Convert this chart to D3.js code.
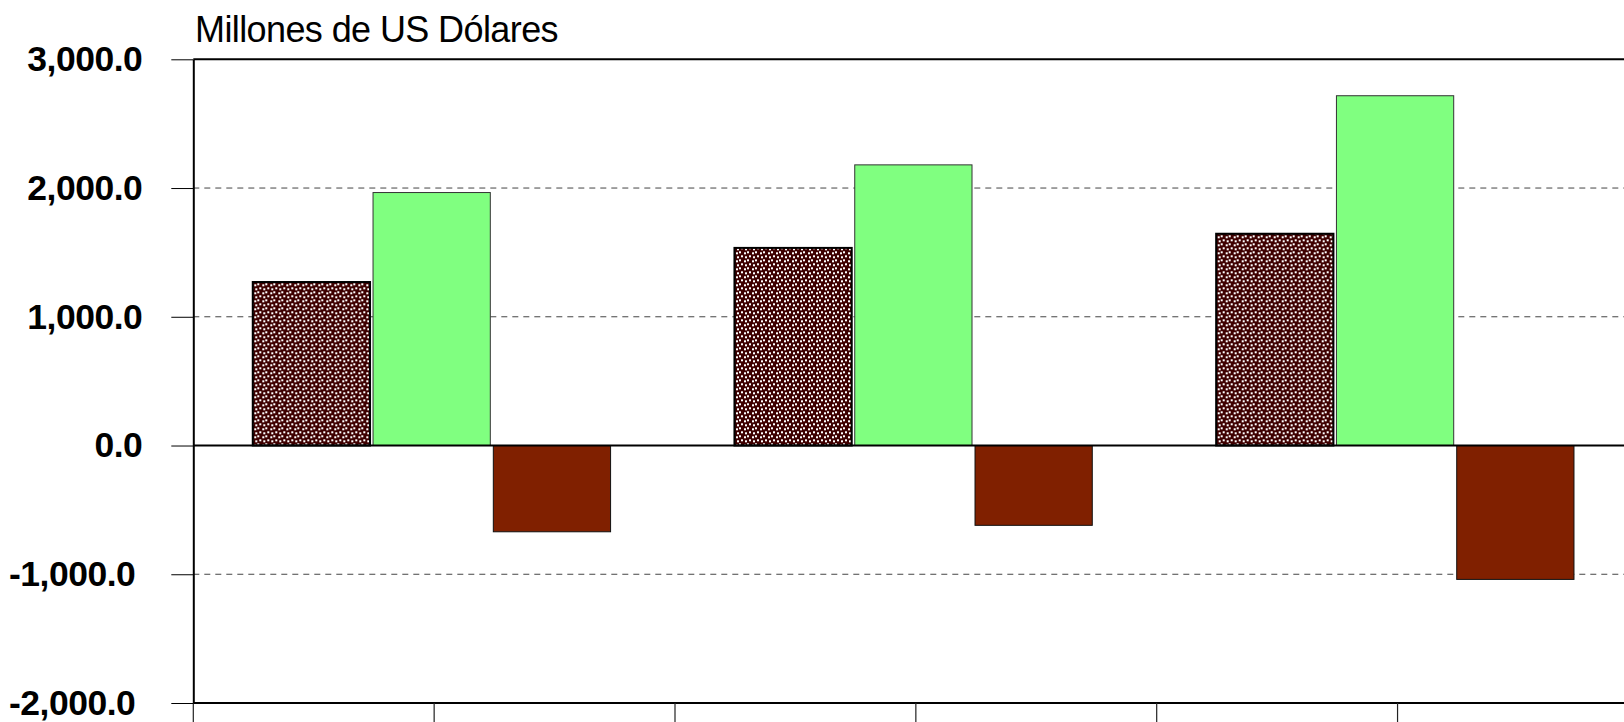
<!DOCTYPE html>
<html>
<head>
<meta charset="utf-8">
<script src="https://d3js.org/d3.v7.min.js"></script>
<style>
body { margin: 0; background: #fff; overflow: hidden; }
svg { display: block; }
.yAxis text { font: bold 35.5px "Liberation Sans", Arial, sans-serif; fill: #000; }
.title { font: 36px "Liberation Sans", Arial, sans-serif; fill: #000; }
</style>
</head>
<body>
<svg id="svg_chart"></svg>
<script>
// chart values
var categories = ["Periodo 1", "Periodo 2", "Periodo 3"];
var seriesNames = ["Exportaciones", "Importaciones", "Saldo"];
var exportaciones = [1270, 1535, 1645];
var importaciones = [1965, 2180, 2717];
var saldo = [-670, -620, -1040];
var yTicks = [-2000, -1000, 0, 1000, 2000, 3000];
var gridTicks = [-1000, 1000, 2000];
var titleText = "Millones de US Dólares";

var w = 1624;
var h = 722;
var margin = {top: 59.3, left: 193.3};
var cat_w = 481.7;
var plot_w = categories.length * cat_w;
var plot_h = 643.7;

var fills = {"Exportaciones": "url(#confetti)", "Importaciones": "#80ff80", "Saldo": "#802000"};
var strokes = {"Exportaciones": "#000", "Importaciones": "#333", "Saldo": "#111"};
var strokeW = {"Exportaciones": 2, "Importaciones": 1, "Saldo": 1};

var rows = categories.map(function(c, i) {
  return {cat: c, values: [
    {name: seriesNames[0], value: exportaciones[i]},
    {name: seriesNames[1], value: importaciones[i]},
    {name: seriesNames[2], value: saldo[i]}
  ]};
});

var fmt = d3.formatLocale({decimal: ".", thousands: ",", grouping: [3], currency: ["$", ""], minus: "-"}).format(",.1f");

var svg = d3.select("svg#svg_chart")
    .attr("width", w)
    .attr("height", h);

// confetti pattern for the first series
var pat = svg.append("defs").append("pattern")
    .attr("id", "confetti")
    .attr("patternUnits", "userSpaceOnUse")
    .attr("width", 8)
    .attr("height", 8);
pat.append("rect").attr("width", 8).attr("height", 8).attr("fill", "#3e0000");
[[0,0,2,2],[5,1,2,2],[2,4,2,2],[6,5,2,2]].forEach(function(r) {
  pat.append("rect").attr("x", r[0]).attr("y", r[1]).attr("width", r[2]).attr("height", r[3]).attr("fill", "#fff");
});

var g = svg.append("g")
    .attr("transform", "translate(" + margin.left + "," + margin.top + ")");

var xScale = d3.scaleBand()
    .domain(categories)
    .range([0, plot_w]);

var xInner = d3.scaleBand()
    .domain(seriesNames)
    .range([0, xScale.bandwidth()])
    .paddingInner(0.025)
    .paddingOuter(0.515)
    .align(0.48);

var yScale = d3.scaleLinear()
    .domain([-2000, 3000])
    .range([plot_h, 0]);

// dashed gridlines
g.selectAll("line.grid")
    .data(gridTicks)
    .enter().append("line")
    .attr("class", "grid")
    .attr("x1", 0)
    .attr("x2", plot_w)
    .attr("y1", function(d) { return yScale(d); })
    .attr("y2", function(d) { return yScale(d); })
    .attr("stroke", "#444")
    .attr("stroke-width", 1)
    .attr("stroke-dasharray", "6,5");

// bars
var groups = g.selectAll("g.cat")
    .data(rows)
    .enter().append("g")
    .attr("class", "cat")
    .attr("transform", function(d) { return "translate(" + xScale(d.cat) + ",0)"; });

groups.selectAll("rect")
    .data(function(d) { return d.values; })
    .enter().append("rect")
    .attr("x", function(d) { return xInner(d.name); })
    .attr("width", xInner.bandwidth())
    .attr("y", function(d) { return yScale(Math.max(0, d.value)); })
    .attr("height", function(d) { return Math.abs(yScale(d.value) - yScale(0)); })
    .attr("fill", function(d) { return fills[d.name]; })
    .attr("stroke", function(d) { return strokes[d.name]; })
    .attr("stroke-width", function(d) { return strokeW[d.name]; });

// zero line and top border
g.append("line")
    .attr("x1", 0).attr("x2", plot_w)
    .attr("y1", yScale(0)).attr("y2", yScale(0))
    .attr("stroke", "#000").attr("stroke-width", 2);
g.append("line")
    .attr("x1", 0).attr("x2", plot_w)
    .attr("y1", yScale(3000)).attr("y2", yScale(3000))
    .attr("stroke", "#000").attr("stroke-width", 2);

// x axis: ticks at category edges and centers, labels are cut off below
var xTickPos = [];
categories.forEach(function(c) {
  xTickPos.push(xScale(c));
  xTickPos.push(xScale(c) + xScale.bandwidth() / 2);
});
var xAxisG = g.append("g")
    .attr("transform", "translate(0," + plot_h + ")");
xAxisG.append("line")
    .attr("x1", 0).attr("x2", plot_w)
    .attr("stroke", "#000").attr("stroke-width", 2);
xAxisG.selectAll("line.xt")
    .data(xTickPos)
    .enter().append("line")
    .attr("class", "xt")
    .attr("x1", function(d) { return d; })
    .attr("x2", function(d) { return d; })
    .attr("y1", 0).attr("y2", 22)
    .attr("stroke", "#222").attr("stroke-width", 1.2);

// y axis
var yAxis = d3.axisLeft(yScale)
    .tickValues(yTicks)
    .tickFormat(fmt)
    .tickSize(22)
    .tickSizeOuter(0)
    .tickPadding(29);
var yAxisG = g.append("g")
    .attr("class", "yAxis")
    .call(yAxis);
yAxisG.select(".domain").attr("stroke", "#000").attr("stroke-width", 2);
yAxisG.selectAll(".tick line").attr("stroke", "#000").attr("stroke-width", 1);
yAxisG.selectAll("text")
    .attr("letter-spacing", -0.5)
    .attr("dx", function(d) { return d < 0 ? -7 : 0; });

// title
svg.append("text")
    .attr("class", "title")
    .attr("x", 195)
    .attr("y", 41.5)
    .attr("letter-spacing", -0.6)
    .text(titleText);
</script>
</body>
</html>
